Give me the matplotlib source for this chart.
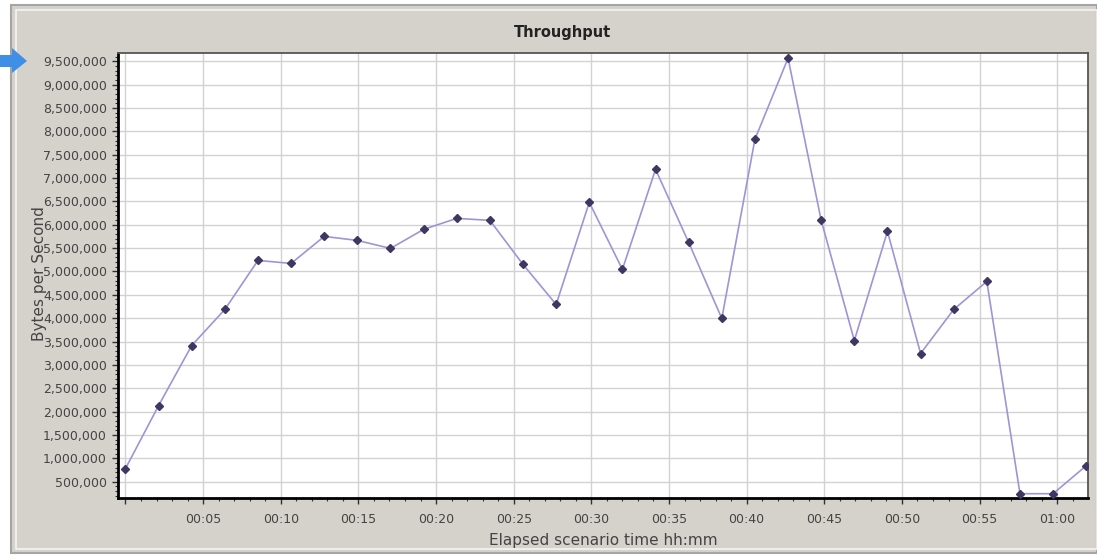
import numpy as np
import matplotlib
matplotlib.use('Agg')
import matplotlib.pyplot as plt
from matplotlib.patches import Rectangle, Polygon
from matplotlib.ticker import FuncFormatter, MultipleLocator

# samples every 128 seconds
step_s = 128
throughput = [778000, 2128000, 3414000, 4186000, 5236000, 5171000, 5750000, 5664000,
              5493000, 5900000, 6136000, 6093000, 5150000, 4293000, 6479000, 5043000,
              7186000, 5621000, 3993000, 7829000, 9565000, 6093000, 3521000, 5857000,
              3243000, 4186000, 4786000, 242000, 242000, 842000]
minutes = np.arange(len(throughput)) * step_s / 60.0

W, H = 1097, 559
fig = plt.figure(figsize=(W / 100, H / 100), dpi=100)
fig.patch.set_facecolor('white')

def px(x, y):
    return x / W, 1 - y / H

# grey panel like the old windows chart frame
x0, y0 = px(11, 553)
x1, y1 = px(1097, 5)
fig.patches.append(Rectangle((x0, y0), x1 - x0, y1 - y0, transform=fig.transFigure,
                             facecolor='#d5d2cb', edgecolor='#a5a5a5', lw=1.5, zorder=-2))
x0, y0 = px(16, 549)
x1, y1 = px(1097, 10)
fig.patches.append(Rectangle((x0, y0), x1 - x0, y1 - y0, transform=fig.transFigure,
                             facecolor='none', edgecolor='#f4f4f4', lw=1.2, zorder=-1))

# blue pointer arrow
arrow = [px(0, 55), px(12, 55), px(12, 48), px(27, 61), px(12, 73), px(12, 67), px(0, 67)]
fig.patches.append(Polygon(arrow, closed=True, transform=fig.transFigure,
                           facecolor='#3f8fe6', edgecolor='none', zorder=1))

l, b = px(118, 498)
r, t = px(1088, 53)
ax = fig.add_axes([l, b, r - l, t - b])
ax.set_zorder(2)
ax.set_facecolor('white')

ax.plot(minutes, throughput, color='#a094d6', lw=1.2, zorder=3)
ax.plot(minutes, throughput, ls='none', marker='D', ms=4.5, color='#3f3762',
        mec='#3f3762', zorder=4)

ax.set_xlim(-0.48, 61.98)
ax.set_ylim(150000, 9676000)

ax.xaxis.set_major_locator(MultipleLocator(5))
ax.xaxis.set_minor_locator(MultipleLocator(1))
ax.yaxis.set_major_locator(MultipleLocator(500000))
ax.yaxis.set_minor_locator(MultipleLocator(100000))

def fmt_time(v, pos):
    if v < 1:
        return ''
    m = int(round(v))
    return '%02d:%02d' % (m // 60, m % 60)

ax.xaxis.set_major_formatter(FuncFormatter(fmt_time))
ax.yaxis.set_major_formatter(FuncFormatter(lambda v, p: '{:,.0f}'.format(v)))

ax.grid(True, which='major', color='#d2d2d2', lw=1.0, zorder=1)
ax.tick_params(axis='both', which='major', labelsize=9, colors='#333333',
               labelcolor='#444444', length=4, width=1, direction='out')
ax.tick_params(axis='both', which='minor', length=2, width=0.8, color='#333333')
ax.tick_params(axis='x', pad=7)
ax.tick_params(axis='y', pad=4)

for s in ['left', 'bottom']:
    ax.spines[s].set_linewidth(2)
    ax.spines[s].set_color('black')
for s in ['top', 'right']:
    ax.spines[s].set_linewidth(1.3)
    ax.spines[s].set_color('#555555')

fig.text(562 / W, 1 - 33 / H, 'Throughput', ha='center', va='center',
         fontsize=10.5, fontweight='bold', color='#222222')
fig.text(603 / W, 1 - 540 / H, 'Elapsed scenario time hh:mm', ha='center', va='center',
         fontsize=11, color='#444444')
# in the original the axis title sits underneath the tick labels
fig.text(40 / W, 1 - 274 / H, 'Bytes per Second', ha='center', va='center',
         rotation=90, fontsize=11, color='#444444', zorder=0)

fig.savefig('out.png', dpi=100, facecolor=fig.get_facecolor())
